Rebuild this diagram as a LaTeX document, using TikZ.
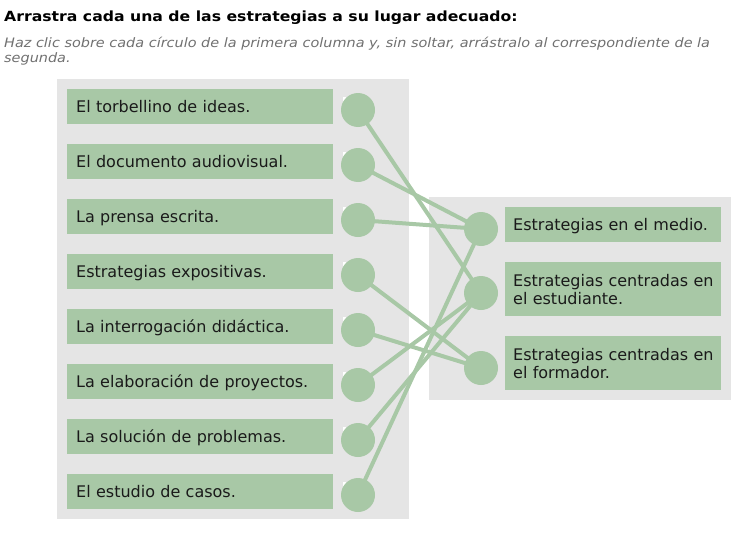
\documentclass[tikz,border=0pt]{standalone}
\usepackage{fontspec}
\setmainfont{DejaVu Sans}
\newfontfamily\titlefont[FakeStretch=1.12]{DejaVu Sans}
\newfontfamily\subfont[FakeStretch=1.11]{DejaVu Sans}
\definecolor{boxgreen}{HTML}{A8C8A6}
\definecolor{panelgray}{HTML}{E5E5E5}
\definecolor{txt}{HTML}{1A1A1A}
\definecolor{subgray}{HTML}{707070}
\begin{document}
\begin{tikzpicture}[x=1pt,y=-1pt,
  panel/.style={fill=panelgray, draw=none, anchor=north west, inner sep=0pt},
  itembox/.style={fill=boxgreen, anchor=north west, minimum height=35pt, inner xsep=9pt, inner ysep=0pt, text width=248pt, align=left, text height=12.5pt, text depth=0pt, font=\fontsize{16}{18}\selectfont, text=txt},
  catbox/.style={fill=boxgreen, anchor=north west, inner xsep=8pt, inner ysep=0pt, text width=200pt, align=left, font=\fontsize{16}{18}\selectfont, text=txt},
  dot/.style={circle, fill=boxgreen, minimum size=34pt, inner sep=0pt},
  link/.style={draw=boxgreen, line width=4pt},
]
\useasboundingbox (0,0) rectangle (750,546);
\node[panel, minimum width=352pt, minimum height=440pt] (lp) at (57,79) {};
\node[panel, minimum width=302pt, minimum height=203pt] (rp) at (429,197) {};
\node[anchor=base west, inner sep=0pt, font=\titlefont\bfseries\fontsize{14}{17}\selectfont, text=black] (title) at (4,21) {Arrastra cada una de las estrategias a su lugar adecuado:};
\node[anchor=base west, inner sep=0pt, font=\subfont\itshape\fontsize{13}{15}\selectfont, text=subgray, align=left] (sub) at (4,62) {Haz clic sobre cada círculo de la primera columna y, sin soltar, arrástralo al correspondiente de la\\segunda.};
\foreach \t [count=\i] in {El torbellino de ideas., El documento audiovisual., La prensa escrita., Estrategias expositivas., La interrogación didáctica., La elaboración de proyectos., La solución de problemas., El estudio de casos.}{
  \node[itembox] (l\i) at (67,{89+55*(\i-1)}) {\t};
  \fill[white] (343,{97+55*(\i-1)}) rectangle ++(3,6);
  \node[dot] (c\i) at (358,{110+55*(\i-1)}) {};
}
\node[dot] (r1) at (481,229) {};
\node[dot] (r2) at (481,293) {};
\node[dot] (r3) at (481,368) {};
\node[catbox, minimum height=35pt, text height=12.5pt, text depth=0pt] (b1) at (505,207) {Estrategias en el medio.};
\node[catbox, minimum height=54pt] (b2) at (505,262) {\mbox{Estrategias centradas en}\\el estudiante.};
\node[catbox, minimum height=54pt] (b3) at (505,336) {\mbox{Estrategias centradas en}\\el formador.};
\draw[link] (c1.center) -- (r2.center);
\draw[link] (c2.center) -- (r1.center);
\draw[link] (c3.center) -- (r1.center);
\draw[link] (c4.center) -- (r3.center);
\draw[link] (c5.center) -- (r3.center);
\draw[link] (c6.center) -- (r2.center);
\draw[link] (c7.center) -- (r2.center);
\draw[link] (c8.center) -- (r1.center);
\end{tikzpicture}
\end{document}
